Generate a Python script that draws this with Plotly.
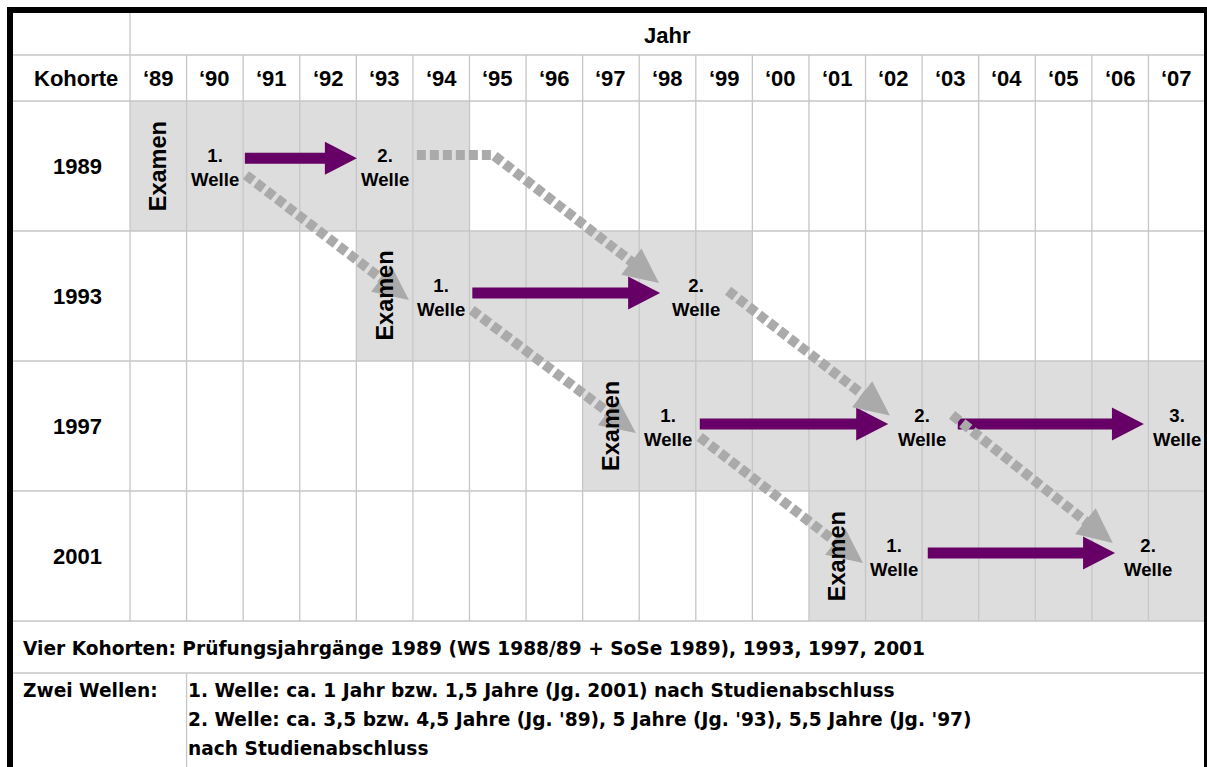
import plotly.graph_objects as go
import math

# ---------------- data ----------------
years = list(range(1989, 2008))
year_labels = ["\u2018%02d" % (y % 100) for y in years]
cohorts = [1989, 1993, 1997, 2001]
cohort_labels = ["1989", "1993", "1997", "2001"]
shade_end = [1994, 1999, 2007, 2007]          # last shaded year of each cohort row
exam_year = [1989, 1993, 1997, 2001]
wave1_year = [1990, 1994, 1998, 2002]
wave2_year = [1993, 1998.5, 2002.5, 2006.5]
wave3_year = [None, None, 2007, None]

# purple arrows (within a cohort): start year, tip year, row position
purple_from = [1990.53, 1994.55, 1998.57, 2003.13, 2002.60]
purple_to = [1992.51, 1997.87, 2001.90, 2006.42, 2005.91]
purple_row = [-0.06, 0.977, 1.985, 1.985, 2.977]

# gray dashed arrows (between cohorts): polyline points (year, row)
gray_x = [[1993.57, 1994.92, 1997.85], [1990.55, 1993.43], [1994.54, 1997.44],
          [1999.07, 2001.93], [1998.57, 2001.455], [2003.03, 2005.87]]
gray_y = [[-0.085, -0.085, 0.90], [0.07, 1.03], [1.108, 2.054],
          [0.96, 1.92], [2.085, 3.054], [1.915, 2.90]]

footer_line1 = "Vier Kohorten: Prüfungsjahrgänge 1989 (WS 1988/89 + SoSe 1989), 1993, 1997, 2001"
footer_head2 = "Zwei Wellen:"
footer_lines2 = ["1. Welle: ca. 1 Jahr bzw. 1,5 Jahre (Jg. 2001) nach Studienabschluss",
                 "2. Welle: ca. 3,5 bzw. 4,5 Jahre (Jg. '89), 5 Jahre (Jg. '93), 5,5 Jahre (Jg. '97)",
                 "nach Studienabschluss"]

# ---------------- layout geometry ----------------
W, H = 1207, 767
COL_W = 56.58          # px per year column
X_FIRST = 130          # px, left edge of first year column
ROW_H = 130            # px per cohort row
ROW0_C = 166           # px, centre of first cohort row
X0 = (years[0] - 0.5) - X_FIRST / COL_W


def px2x(px):
    return X0 + px / COL_W


def py2y(py):
    return (py - ROW0_C) / ROW_H


def x2px(x):
    return (x - X0) * COL_W


def y2py(y):
    return ROW0_C + y * ROW_H


PURPLE = "#660066"
GRAY = "#aaaaaa"
GRID = "#c6c6c6"
SHADE = "#dddddd"
FONT = "Liberation Sans, Arial, sans-serif"

fig = go.Figure()


def head(xs, ys, length, width):
    """triangle head at last point, pointing from previous point"""
    tx, ty = x2px(xs[-1]), y2py(ys[-1])
    px, py = x2px(xs[-2]), y2py(ys[-2])
    dx, dy = tx - px, ty - py
    n = math.hypot(dx, dy)
    dx, dy = dx / n, dy / n
    bx, by = tx - length * dx, ty - length * dy
    nx, ny = -dy, dx
    pts = [(tx, ty), (bx + nx * width / 2, by + ny * width / 2),
           (bx - nx * width / 2, by - ny * width / 2), (tx, ty)]
    hx = [px2x(p[0]) for p in pts]
    hy = [py2y(p[1]) for p in pts]
    return hx, hy, px2x(bx + dx * 2), py2y(by + dy * 2)


# purple arrows
for x0, x1, r in zip(purple_from, purple_to, purple_row):
    hx, hy, bx, by = head([x0, x1], [r, r], 32, 33)
    fig.add_trace(go.Scatter(x=[x0, bx], y=[r, r], mode="lines",
                             line=dict(color=PURPLE, width=11), hoverinfo="skip"))
    fig.add_trace(go.Scatter(x=hx, y=hy, mode="lines", fill="toself", fillcolor=PURPLE,
                             line=dict(width=0, color=PURPLE), hoverinfo="skip"))

# gray dashed arrows
for xs, ys in zip(gray_x, gray_y):
    hx, hy, bx, by = head(xs, ys, 35, 33)
    fig.add_trace(go.Scatter(x=xs[:-1] + [bx], y=ys[:-1] + [by], mode="lines",
                             line=dict(color=GRAY, width=10, dash="9px,4px"), hoverinfo="skip"))
    fig.add_trace(go.Scatter(x=hx, y=hy, mode="lines", fill="toself", fillcolor=GRAY,
                             line=dict(width=0, color=GRAY), hoverinfo="skip"))

shapes = []
# shading
for k, (c, e) in enumerate(zip(cohorts, shade_end)):
    shapes.append(dict(type="rect", xref="x", yref="y", x0=c - 0.5, x1=e + 0.5,
                       y0=k - 0.5, y1=k + 0.5, fillcolor=SHADE, line=dict(width=0), layer="below"))

# grid lines
x_right = px2x(W)
y_top_in = py2y(13)
y_hdr1 = py2y(55)
y_hdr2 = py2y(101)
y_table_end = len(cohorts) - 0.5
y_foot1 = py2y(673)
y_bottom = py2y(H)
x_left_in = px2x(13)


def hline(y, xa, xb):
    shapes.append(dict(type="line", xref="x", yref="y", x0=xa, x1=xb, y0=y, y1=y,
                       line=dict(color=GRID, width=1.3), layer="below"))


def vline(x, ya, yb):
    shapes.append(dict(type="line", xref="x", yref="y", x0=x, x1=x, y0=ya, y1=yb,
                       line=dict(color=GRID, width=1.3), layer="below"))


for yy in [y_hdr1, y_hdr2] + [k + 0.5 for k in range(len(cohorts))] + [y_foot1]:
    hline(yy, x_left_in, x_right)
vline(years[0] - 0.5, y_top_in, y_table_end)
for yr in years[1:]:
    vline(yr - 0.5, y_hdr1, y_table_end)
vline(years[1] - 0.5, y_foot1, y_bottom)

# thick black frame
BW = 6
shapes.append(dict(type="line", xref="x", yref="y", x0=px2x(10), x1=px2x(10), y0=py2y(7), y1=y_bottom,
                   line=dict(color="black", width=BW)))
shapes.append(dict(type="line", xref="x", yref="y", x0=px2x(7), x1=x_right, y0=py2y(10), y1=py2y(10),
                   line=dict(color="black", width=BW)))
shapes.append(dict(type="line", xref="x", yref="y", x0=px2x(W), x1=px2x(W), y0=py2y(7), y1=y_bottom,
                   line=dict(color="black", width=BW)))

ann = []


def txt(x, y, s, size=22, angle=0, xanchor="center", family=FONT):
    ann.append(dict(x=x, y=y, xref="x", yref="y", text="<b>%s</b>" % s, showarrow=False,
                    font=dict(family=family, size=size, color="black"), textangle=angle,
                    xanchor=xanchor, yanchor="middle"))


txt(px2x((X_FIRST + W - 3) / 2), py2y(35), "Jahr")
txt(px2x(76), py2y(78), "Kohorte")
for yr, lab in zip(years, year_labels):
    txt(yr, py2y(78), lab)
for k, lab in enumerate(cohort_labels):
    txt(px2x(77), k, lab)
    txt(exam_year[k], k, "Examen", size=23.5, angle=-90)
    txt(wave1_year[k], k + 0.015, "1.<br>Welle", size=18.6)
    txt(wave2_year[k], k + 0.015, "2.<br>Welle", size=18.6)
    if wave3_year[k] is not None:
        txt(wave3_year[k], k + 0.015, "3.<br>Welle", size=18.6)

FOOT_FONT = "DejaVu Sans, sans-serif"
txt(px2x(21), py2y(648), footer_line1, size=18.6, xanchor="left", family=FOOT_FONT)
txt(px2x(21), py2y(690), footer_head2, size=18.6, xanchor="left", family=FOOT_FONT)
for i, line in enumerate(footer_lines2):
    txt(px2x(186), py2y(690 + 29 * i), line, size=18.6, xanchor="left", family=FOOT_FONT)

fig.update_layout(
    width=W, height=H, autosize=False,
    margin=dict(l=0, r=0, t=0, b=0, pad=0),
    paper_bgcolor="white", plot_bgcolor="white",
    showlegend=False,
    xaxis=dict(range=[X0, px2x(W)], visible=False, fixedrange=True),
    yaxis=dict(range=[y_bottom, py2y(0)], visible=False, fixedrange=True),
    shapes=shapes, annotations=ann,
)

fig.write_html("out.html", config={"displayModeBar": False},
               post_script="document.body.style.margin='0';document.body.style.overflow='hidden';")
